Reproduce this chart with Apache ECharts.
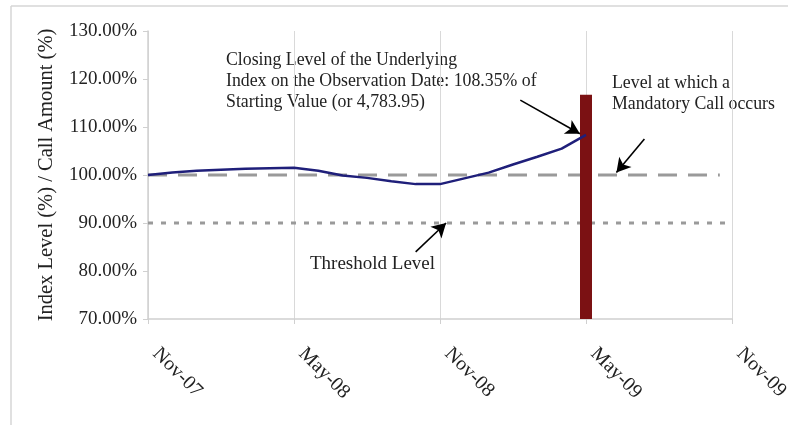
<!DOCTYPE html>
<html>
<head>
<meta charset="utf-8">
<script src="https://cdn.jsdelivr.net/npm/echarts@6/dist/echarts.min.js"></script>
<style>html,body{margin:0;padding:0;background:#fff}#c{width:788px;height:425px}</style>
</head>
<body>
<div id="c"></div>
<script>
// months since Nov-07
var tickLabels = ['Nov-07', 'May-08', 'Nov-08', 'May-09', 'Nov-09'];
var months = [0,1,2,3,4,5,6,7,8,9,10,11,12,13,14,15,16,17,18];
var indexLevel = [100,100.5,100.9,101.1,101.3,101.4,101.5,100.9,99.9,99.4,98.7,98.1,98.1,99.3,100.5,102.2,103.8,105.5,108.35];
var callMonth = 18;
var callAmount = 116.7;
var mandatoryLevel = [[0,100],[23.5,100]];
var thresholdLevel = [[0,90],[23.8,90]];
var arrowCloseFrom = [15.3,115.6], arrowCloseTo = [17.75,108.6];
var arrowCallFrom = [20.4,107.5], arrowCallTo = [19.25,100.5];
var arrowThrFrom = [11.0,84.0], arrowThrTo = [12.25,90.0];

var serif = '"Liberation Serif","Times New Roman",serif';
var chart = echarts.init(document.getElementById('c'));
function arrow(from, to) {
  return {
    type: 'line', data: [], silent: true,
    markLine: {
      silent: true, animation: false,
      symbol: ['none', 'arrow'], symbolSize: [12, 14],
      label: {show: false},
      lineStyle: {color: '#000', width: 1.6, type: 'solid'},
      data: [[{coord: from}, {coord: to}]]
    }
  };
}
chart.setOption({
  animation: false,
  grid: {left: 148, right: 56, top: 31, bottom: 106, containLabel: false, outerBoundsMode: 'none'},
  xAxis: {
    type: 'value', min: 0, max: 24, interval: 6,
    axisLine: {show: true, lineStyle: {color: '#d0d0d0', width: 1.5}},
    axisTick: {show: true, length: 5, lineStyle: {color: '#d0d0d0'}},
    splitLine: {show: true, lineStyle: {color: '#d9d9d9', width: 1}},
    axisLabel: {
      rotate: -45, margin: 24, padding: [0, 0, 0, 11], color: '#222', fontFamily: serif, fontSize: 20,
      formatter: function (v) { return tickLabels[Math.round(v / 6)] || ''; }
    }
  },
  yAxis: {
    type: 'value', min: 70, max: 130, interval: 10,
    name: 'Index Level (%) / Call Amount (%)', nameLocation: 'middle', nameGap: 91,
    nameTextStyle: {fontFamily: serif, fontSize: 20.5, color: '#222'},
    axisLine: {show: true, lineStyle: {color: '#d0d0d0', width: 1.5}},
    axisTick: {show: true, length: 5, lineStyle: {color: '#d0d0d0'}},
    splitLine: {show: false},
    axisLabel: {
      margin: 11, color: '#222', fontFamily: serif, fontSize: 19,
      formatter: function (v) { return v.toFixed(2) + '%'; }
    }
  },
  series: [
    {type: 'line', data: thresholdLevel, symbol: 'none', z: 2,
     lineStyle: {color: '#9a9a9a', width: 3, type: [5, 8]}},
    {type: 'line', data: mandatoryLevel, symbol: 'none', z: 2,
     lineStyle: {color: '#9a9a9a', width: 3, type: [19, 11]}},
    {type: 'bar', data: [[callMonth, callAmount]], barWidth: 12, z: 3,
     itemStyle: {color: '#7b1113'}},
    {type: 'line', data: months.map(function (m, i) { return [m, indexLevel[i]]; }),
     symbol: 'none', z: 4, lineStyle: {color: '#1f1f7a', width: 2.5}},
    arrow(arrowCloseFrom, arrowCloseTo),
    arrow(arrowCallFrom, arrowCallTo),
    arrow(arrowThrFrom, arrowThrTo)
  ],
  graphic: [
    {type: 'line', silent: true, shape: {x1: 11, y1: 6, x2: 788, y2: 6}, style: {stroke: '#d6d6d6', lineWidth: 1.5}},
    {type: 'line', silent: true, shape: {x1: 11, y1: 6, x2: 11, y2: 425}, style: {stroke: '#d6d6d6', lineWidth: 1.5}},
    {type: 'text', left: 226, top: 50, silent: true,
     style: {text: 'Closing Level of the Underlying\nIndex on the Observation Date: 108.35% of\nStarting Value (or 4,783.95)',
             font: '17.8px ' + serif, fill: '#222', lineHeight: 21}},
    {type: 'text', left: 612, top: 73, silent: true,
     style: {text: 'Level at which a\nMandatory Call occurs', font: '17.8px ' + serif, fill: '#222', lineHeight: 21}},
    {type: 'text', left: 310, top: 255, silent: true,
     style: {text: 'Threshold Level', font: '19px ' + serif, fill: '#222'}}
  ]
});
</script>
</body>
</html>
